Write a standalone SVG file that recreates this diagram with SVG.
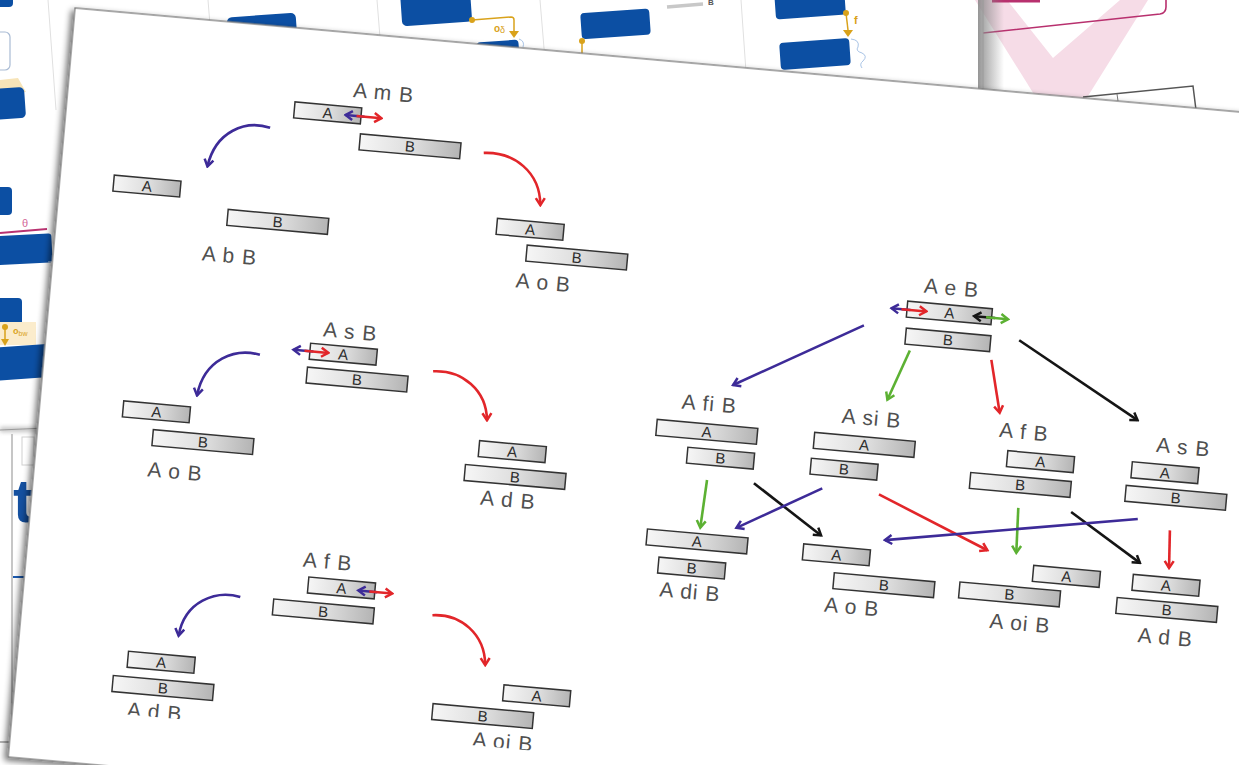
<svg xmlns="http://www.w3.org/2000/svg" width="1239" height="765" viewBox="0 0 1239 765">
  <defs>
    <linearGradient id="barFill" x1="0" y1="0" x2="1" y2="0">
      <stop offset="0" stop-color="#f6f6f6"/>
      <stop offset="0.55" stop-color="#dcdcdc"/>
      <stop offset="1" stop-color="#b4b4b4"/>
    </linearGradient>
    <linearGradient id="edgeShade" x1="0" y1="0" x2="1" y2="0">
      <stop offset="0" stop-color="#8a8a8a" stop-opacity="0.9"/>
      <stop offset="1" stop-color="#8a8a8a" stop-opacity="0"/>
    </linearGradient>
    <filter id="paperShadow" x="-5%" y="-5%" width="110%" height="110%">
      <feGaussianBlur in="SourceAlpha" stdDeviation="3"/>
      <feOffset dx="-3" dy="3" result="b"/>
      <feComponentTransfer><feFuncA type="linear" slope="0.55"/></feComponentTransfer>
      <feMerge><feMergeNode/><feMergeNode in="SourceGraphic"/></feMerge>
    </filter>
    <filter id="soft" x="-20%" y="-200%" width="140%" height="500%">
      <feGaussianBlur stdDeviation="2"/>
    </filter>
    <clipPath id="printArea">
      <rect x="0" y="0" width="1260" height="699"/>
    </clipPath>
    <!-- arrowheads, one per stroke colour -->
    <marker id="hPurple" viewBox="0 0 12 12" markerWidth="12" markerHeight="12" refX="10" refY="6" orient="auto" markerUnits="userSpaceOnUse">
      <path d="M3,1.5 L10,6 L3,10.5" fill="none" stroke="#3d2b98" stroke-width="2.5"/>
    </marker>
    <marker id="hRed" viewBox="0 0 12 12" markerWidth="12" markerHeight="12" refX="10" refY="6" orient="auto" markerUnits="userSpaceOnUse">
      <path d="M3,1.5 L10,6 L3,10.5" fill="none" stroke="#e2262a" stroke-width="2.5"/>
    </marker>
    <marker id="hGreen" viewBox="0 0 12 12" markerWidth="12" markerHeight="12" refX="10" refY="6" orient="auto" markerUnits="userSpaceOnUse">
      <path d="M3,1.5 L10,6 L3,10.5" fill="none" stroke="#5cb133" stroke-width="2.5"/>
    </marker>
    <marker id="hBlack" viewBox="0 0 12 12" markerWidth="12" markerHeight="12" refX="10" refY="6" orient="auto" markerUnits="userSpaceOnUse">
      <path d="M3,1.5 L10,6 L3,10.5" fill="none" stroke="#151515" stroke-width="2.5"/>
    </marker>
  </defs>
  <style>
    .bar { fill: url(#barFill); stroke: #333333; stroke-width: 1.5; }
    .bl { font-family: "Liberation Sans", Arial, sans-serif; font-size: 15px; fill: #2e2e2e; text-anchor: middle; }
    .lab { font-family: "Liberation Sans", Arial, sans-serif; font-size: 21px; fill: #505050; text-anchor: middle; letter-spacing: 1px; }
    .blue { fill: #0c4fa3; }
    .gold { fill: #d9a21b; }
    .sep { stroke: #e0e0e0; stroke-width: 1; fill: none; }
    .ln { fill: none; stroke-width: 2.6; }
    .sm { fill: none; stroke-width: 2.5; }
    .p { stroke: #3d2b98; }
    .r { stroke: #e2262a; }
    .g { stroke: #5cb133; }
    .k { stroke: #151515; }
    .paper { fill: #ffffff; stroke: #7a7a7a; stroke-width: 1.3; }
  </style>

  <rect width="1239" height="765" fill="#ffffff"/>

  <!-- sheets lying underneath -->
  <g id="backdrop">
    <!-- upper left sheet -->
    <line class="sep" x1="48" y1="0" x2="56" y2="110"/>
    <rect class="blue" x="-10" y="-12" width="23" height="19" rx="4"/>
    <rect x="-12" y="32" width="22" height="38" rx="5" fill="#ffffff" stroke="#a9bbd4" stroke-width="1.2"/>
    <polygon points="0,80 18,78 26,92 0,94" fill="#f7e4b8"/>
    <rect class="blue" x="-10" y="88" width="35" height="31" rx="5" transform="rotate(-4 8 103)"/>
    <rect class="blue" x="-10" y="187" width="22" height="28" rx="4"/>
    <text x="22" y="227" font-family="'Liberation Sans', Arial, sans-serif" font-size="11" fill="#d4699a">θ</text>
    <line x1="0" y1="233" x2="47" y2="229" stroke="#b83270" stroke-width="2"/>
    <rect class="blue" x="-10" y="235" width="62" height="29" rx="3" transform="rotate(-3 20 250)"/>
    <line x1="48" y1="262" x2="58" y2="261" stroke="#a9c4e6" stroke-width="1"/>
    <rect class="blue" x="-10" y="298" width="32" height="28" rx="4"/>
    <rect x="0" y="322" width="36" height="23" fill="#fbeccc"/>
    <circle class="gold" cx="5" cy="327" r="3"/>
    <line x1="5" y1="327" x2="5" y2="339" stroke="#d9a21b" stroke-width="1.5"/>
    <polygon class="gold" points="1,339 9,339 5,346"/>
    <text x="13" y="334" font-family="'Liberation Sans', Arial, sans-serif" font-size="9" font-weight="bold" fill="#d9a21b">o<tspan font-size="7" font-weight="normal" dy="2">bw</tspan></text>
    <rect class="blue" x="-10" y="346" width="58" height="33" transform="rotate(-4 20 362)"/>
    <rect x="0" y="427" width="46" height="5" fill="#9a9a9a" opacity="0.6" filter="url(#soft)"/>
    <line x1="0" y1="430" x2="46" y2="428" stroke="#9a9a9a" stroke-width="1.2"/>

    <!-- lower left sheet -->
    <line x1="12" y1="434" x2="12" y2="742" stroke="#b3b3b3" stroke-width="1.5"/>
    <rect x="22" y="437" width="12" height="28" fill="none" stroke="#d0d0d0" stroke-width="1"/>
    <text x="13" y="522" font-family="'Liberation Sans', Arial, sans-serif" font-size="62" font-weight="bold" fill="#1450a0">t</text>
    <line x1="13" y1="577" x2="30" y2="577" stroke="#1a5ab0" stroke-width="2"/>
    <line x1="0" y1="742" x2="12" y2="742" stroke="#9a9a9a" stroke-width="1.5"/>

    <!-- upper middle sheet -->
    <line class="sep" x1="208" y1="0" x2="212" y2="50"/>
    <line class="sep" x1="377" y1="0" x2="381" y2="50"/>
    <line class="sep" x1="540" y1="0" x2="545" y2="60"/>
    <line class="sep" x1="741" y1="0" x2="746" y2="72"/>
    <rect class="blue" x="228" y="15" width="69" height="40" rx="5" transform="rotate(-4 263 35)"/>
    <rect class="blue" x="401" y="-12" width="70" height="36" rx="5" transform="rotate(-4 436 6)"/>
    <rect class="blue" x="477" y="41" width="42" height="20" rx="4" transform="rotate(-4 498 51)"/>
    <path d="M519,39 q6,2 4,8" fill="none" stroke="#a9c4e6" stroke-width="1"/>
    <circle class="gold" cx="472" cy="20" r="3"/>
    <path d="M472,20 L511,17 Q514,17 514,20 L514,31" fill="none" stroke="#d9a21b" stroke-width="1.5"/>
    <polygon class="gold" points="509,31 519,31 514,38"/>
    <text x="494" y="32" font-family="'Liberation Sans', Arial, sans-serif" font-size="10" font-weight="bold" fill="#d9a21b">o<tspan font-size="9" font-weight="normal" dy="1">δ</tspan></text>
    <rect class="blue" x="581" y="11" width="69" height="26" rx="4" transform="rotate(-4 615 24)"/>
    <circle class="gold" cx="582" cy="41" r="3"/>
    <line x1="582" y1="41" x2="582" y2="58" stroke="#d9a21b" stroke-width="1.5"/>
    <line x1="667" y1="7" x2="703" y2="4" stroke="#c8c8c8" stroke-width="3.5"/>
    <text x="708" y="5" font-family="'Liberation Sans', Arial, sans-serif" font-size="8" font-weight="bold" fill="#555555">B</text>
    <rect class="blue" x="775" y="-12" width="70" height="29" rx="4" transform="rotate(-4 810 3)"/>
    <circle class="gold" cx="846" cy="13" r="3"/>
    <line x1="846" y1="13" x2="848" y2="30" stroke="#d9a21b" stroke-width="1.5"/>
    <polygon class="gold" points="843,30 853,30 848,37"/>
    <text x="854" y="24" font-family="'Liberation Sans', Arial, sans-serif" font-size="11" font-weight="bold" fill="#d9a21b">f</text>
    <rect class="blue" x="780" y="40.5" width="70" height="27" rx="4" transform="rotate(-4 815 54)"/>
    <path d="M851,39 q9,1 7,8 q-3,4 4,6 q6,3 1,8 q-4,3 -1,7" fill="none" stroke="#a9c4e6" stroke-width="1"/>

    <!-- upper right sheet -->
    <polygon points="983,-2 1245,-2 1245,120 983,100" fill="#ffffff"/>
    <polygon points="975,0 1148,0 1083,104 1040,104" fill="#f6dce7"/>
    <polygon points="1007,0 1120,0 1053,58" fill="#ffffff"/>
    <path d="M983,33 L1160,14 Q1166,13 1166,7 L1166,-2" fill="none" stroke="#b8306e" stroke-width="1.6"/>
    <line x1="992" y1="1" x2="1040" y2="1" stroke="#b8306e" stroke-width="3"/>
    <rect x="978" y="0" width="26" height="102" fill="url(#edgeShade)"/>
    <line x1="983" y1="0" x2="983" y2="100" stroke="#9a9a9a" stroke-width="1"/>
    <polyline points="1083,97 1193,86 1196,110" fill="none" stroke="#555555" stroke-width="1.5"/>
    <line x1="1117" y1="94" x2="1118" y2="101" stroke="#777777" stroke-width="1"/>
  </g>

  <!-- the printed sheet with the interval relations -->
  <g id="sheet" transform="translate(75,8) rotate(5.1)">
    <rect class="paper" x="0" y="0" width="1260" height="752" filter="url(#paperShadow)"/>
    <g clip-path="url(#printArea)">

      <g id="n-AmB">
        <text class="lab" x="315" y="64">A m B</text>
        <rect class="bar" x="227.5" y="74" width="67" height="16"/><text class="bl" x="261" y="87.4">A</text>
        <rect class="bar" x="295.5" y="100" width="101" height="16"/><text class="bl" x="346" y="113.4">B</text>
      </g>
      <g id="n-AbB">
        <rect class="bar" x="54" y="163" width="67" height="16"/><text class="bl" x="87.5" y="176.4">A</text>
        <rect class="bar" x="170.5" y="187" width="101" height="16"/><text class="bl" x="221" y="200.4">B</text>
        <text class="lab" x="176" y="240">A b B</text>
      </g>
      <g id="n-AoB-1">
        <rect class="bar" x="439.5" y="172" width="67" height="16"/><text class="bl" x="473" y="185.4">A</text>
        <rect class="bar" x="471.5" y="196" width="101" height="16"/><text class="bl" x="522" y="209.4">B</text>
        <text class="lab" x="491" y="239">A o B</text>
      </g>

      <g id="n-AsB-1">
        <text class="lab" x="303" y="305">A s B</text>
        <rect class="bar" x="264.5" y="313" width="67" height="16"/><text class="bl" x="298" y="326.4">A</text>
        <rect class="bar" x="263.5" y="337" width="101" height="16"/><text class="bl" x="314" y="350.4">B</text>
      </g>
      <g id="n-AoB-2">
        <rect class="bar" x="83.5" y="387" width="67" height="16"/><text class="bl" x="117" y="400.4">A</text>
        <rect class="bar" x="115.5" y="413" width="101" height="16"/><text class="bl" x="166" y="426.4">B</text>
        <text class="lab" x="141" y="460">A o B</text>
      </g>
      <g id="n-AdB-1">
        <rect class="bar" x="441.5" y="395" width="67" height="16"/><text class="bl" x="475" y="408.4">A</text>
        <rect class="bar" x="429.5" y="420" width="101" height="16"/><text class="bl" x="480" y="433.4">B</text>
        <text class="lab" x="475" y="458.5">A d B</text>
      </g>

      <g id="n-AfB-1">
        <text class="lab" x="301" y="536">A f B</text>
        <rect class="bar" x="283.5" y="546" width="67" height="16"/><text class="bl" x="317" y="559.4">A</text>
        <rect class="bar" x="250.5" y="571" width="101" height="16"/><text class="bl" x="301" y="584.4">B</text>
      </g>
      <g id="n-AdB-2">
        <rect class="bar" x="110.5" y="636" width="67" height="16"/><text class="bl" x="144" y="649.4">A</text>
        <rect class="bar" x="97.5" y="661.5" width="101" height="16"/><text class="bl" x="148" y="674.9">B</text>
        <text class="lab" x="142" y="701">A d B</text>
      </g>
      <g id="n-AoiB-1">
        <rect class="bar" x="487.5" y="636" width="67" height="16"/><text class="bl" x="521" y="649.4">A</text>
        <rect class="bar" x="418.5" y="661" width="101" height="16"/><text class="bl" x="469" y="674.4">B</text>
        <text class="lab" x="491.5" y="700">A oi B</text>
      </g>

      <g id="n-AeB">
        <text class="lab" x="898" y="208">A e B</text>
        <rect class="bar" x="855.5" y="218" width="85" height="16"/><text class="bl" x="898" y="231.4">A</text>
        <rect class="bar" x="856.5" y="245" width="85" height="16"/><text class="bl" x="899" y="258.4">B</text>
      </g>
      <g id="n-AfiB">
        <text class="lab" x="667" y="345">A fi B</text>
        <rect class="bar" x="616.5" y="358" width="101" height="16"/><text class="bl" x="667" y="371.4">A</text>
        <rect class="bar" x="649.5" y="383" width="67" height="16"/><text class="bl" x="683" y="396.4">B</text>
      </g>
      <g id="n-AsiB">
        <text class="lab" x="830" y="345">A si B</text>
        <rect class="bar" x="774.5" y="357" width="101" height="16"/><text class="bl" x="825" y="370.4">A</text>
        <rect class="bar" x="773.5" y="383" width="67" height="16"/><text class="bl" x="807" y="396.4">B</text>
      </g>
      <g id="n-AfB-2">
        <text class="lab" x="983" y="345">A f B</text>
        <rect class="bar" x="968.5" y="358" width="67" height="16"/><text class="bl" x="1002" y="371.4">A</text>
        <rect class="bar" x="933.5" y="383" width="101" height="16"/><text class="bl" x="984" y="396.4">B</text>
      </g>
      <g id="n-AsB-2">
        <text class="lab" x="1143" y="346">A s B</text>
        <rect class="bar" x="1093.5" y="358" width="67" height="16"/><text class="bl" x="1127" y="371.4">A</text>
        <rect class="bar" x="1089.5" y="382" width="101" height="16"/><text class="bl" x="1140" y="395.4">B</text>
      </g>
      <g id="n-AdiB">
        <rect class="bar" x="616.5" y="468" width="101" height="16"/><text class="bl" x="667" y="481.4">A</text>
        <rect class="bar" x="630.5" y="495" width="67" height="16"/><text class="bl" x="664" y="508.4">B</text>
        <text class="lab" x="664.5" y="534">A di B</text>
      </g>
      <g id="n-AoB-3">
        <rect class="bar" x="773.5" y="469" width="67" height="16"/><text class="bl" x="807" y="482.4">A</text>
        <rect class="bar" x="806.5" y="495" width="101" height="16"/><text class="bl" x="857" y="508.4">B</text>
        <text class="lab" x="827" y="534.5">A o B</text>
      </g>
      <g id="n-AoiB-2">
        <rect class="bar" x="1004.5" y="470" width="67" height="16"/><text class="bl" x="1038" y="483.4">A</text>
        <rect class="bar" x="932.5" y="493" width="101" height="16"/><text class="bl" x="983" y="506.4">B</text>
        <text class="lab" x="996" y="536">A oi B</text>
      </g>
      <g id="n-AdB-3">
        <rect class="bar" x="1104.5" y="470" width="67" height="16"/><text class="bl" x="1138" y="483.4">A</text>
        <rect class="bar" x="1090.5" y="494.5" width="101" height="16"/><text class="bl" x="1141" y="507.9">B</text>
        <text class="lab" x="1142" y="537">A d B</text>
      </g>

      <g id="connectors">
        <!-- endpoint moves on the bars -->
        <path class="sm p" d="M298,82.5 L279,82.5" marker-end="url(#hPurple)"/>
        <path class="sm r" d="M290,82.5 L315,82.5" marker-end="url(#hRed)"/>
        <path class="sm p" d="M268,321 L248,321" marker-end="url(#hPurple)"/>
        <path class="sm r" d="M259,321 L283,321" marker-end="url(#hRed)"/>
        <path class="sm p" d="M353,555 L334,555" marker-end="url(#hPurple)"/>
        <path class="sm r" d="M345,555 L368,555" marker-end="url(#hRed)"/>
        <path class="sm p" d="M859,226.5 L840,226.5" marker-end="url(#hPurple)"/>
        <path class="sm r" d="M850,226.5 L875,226.5" marker-end="url(#hRed)"/>
        <path class="sm k" d="M944,227 L923,227" marker-end="url(#hBlack)"/>
        <path class="sm g" d="M935,227 L957,227" marker-end="url(#hGreen)"/>

        <!-- curved transitions -->
        <path class="ln p" d="M205,102 C180,96 151,110 146,146" marker-end="url(#hPurple)"/>
        <path class="ln r" d="M420,108 C450,104 478,122 481,155" marker-end="url(#hRed)"/>
        <path class="ln p" d="M215,329 C190,324 160,338 156,375" marker-end="url(#hPurple)"/>
        <path class="ln r" d="M389,330 C418,326 444,344 447,374" marker-end="url(#hRed)"/>
        <path class="ln p" d="M217,572 C192,567 162,581 159,616" marker-end="url(#hPurple)"/>
        <path class="ln r" d="M410,573 C438,569 464,587 467,618" marker-end="url(#hRed)"/>

        <!-- transitions from A e B -->
        <path class="ln p" d="M814,246 L689,317" marker-end="url(#hPurple)"/>
        <path class="ln g" d="M862,267 L844,318" marker-end="url(#hGreen)"/>
        <path class="ln r" d="M944,269 L957,321" marker-end="url(#hRed)"/>
        <path class="ln k" d="M970,247 L1095,316" marker-end="url(#hBlack)"/>

        <!-- second step -->
        <path class="ln g" d="M671.5,414 L669,462" marker-end="url(#hGreen)"/>
        <path class="ln k" d="M718.5,413 L790,459" marker-end="url(#hBlack)"/>
        <path class="ln p" d="M787,412 L705,459" marker-end="url(#hPurple)"/>
        <path class="ln r" d="M844,413 L957,459" marker-end="url(#hRed)"/>
        <path class="ln g" d="M984,414 L986,459" marker-end="url(#hGreen)"/>
        <path class="ln k" d="M1037,413.5 L1110,458" marker-end="url(#hBlack)"/>
        <path class="ln p" d="M1104,414.5 L854,458" marker-end="url(#hPurple)"/>
        <path class="ln r" d="M1137,423 L1139.5,460.5" marker-end="url(#hRed)"/>
      </g>
    </g>
  </g>
</svg>
